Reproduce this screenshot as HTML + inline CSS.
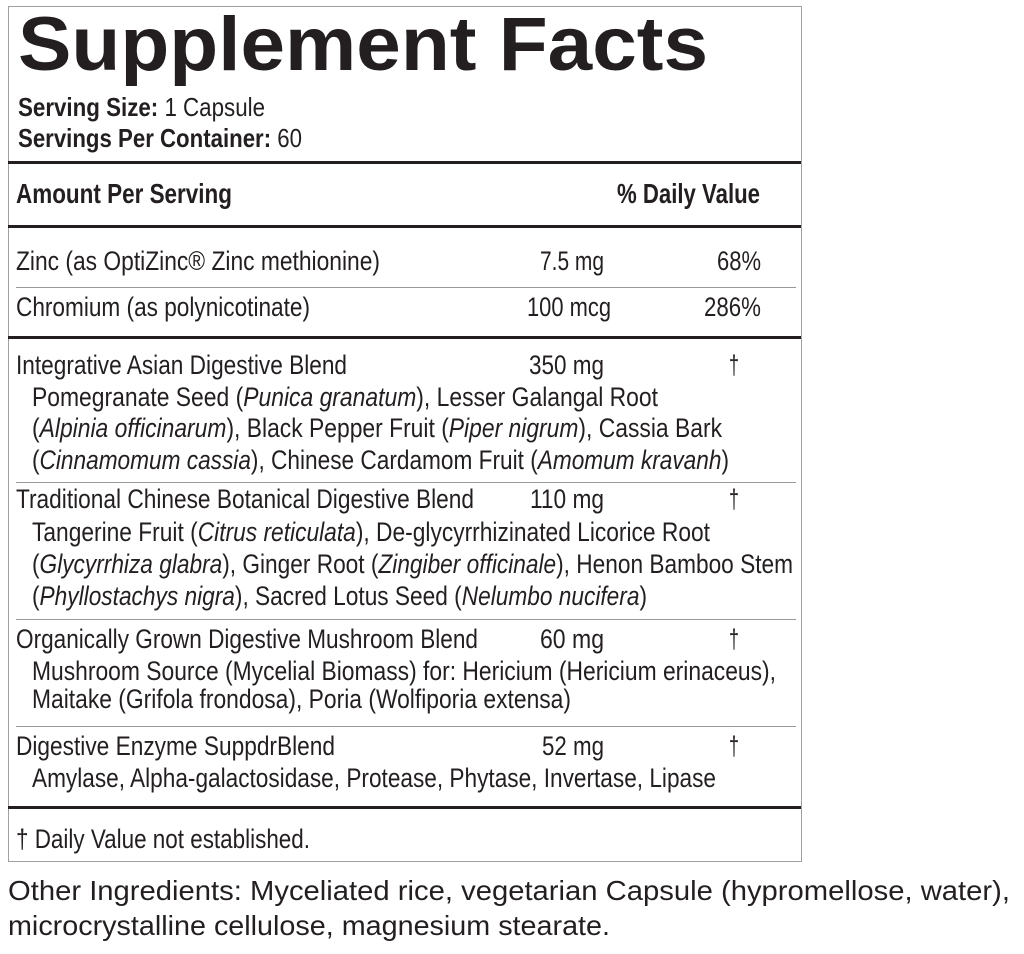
<!DOCTYPE html>
<html><head><meta charset="utf-8"><style>
html,body{margin:0;padding:0;background:#fff;width:1024px;height:954px;overflow:hidden}
body{position:relative;font-family:"Liberation Sans",sans-serif;color:#231f20}
.t{position:absolute;white-space:nowrap;line-height:normal;transform-origin:0 0}
.ln{position:absolute;background:#231f20}
b{font-weight:bold}
</style></head><body>
<div style="position:absolute;left:8px;top:6px;width:792px;height:854px;border:1px solid #a0a0a0"></div>
<div class="ln" style="left:8px;top:161px;width:793px;height:3px"></div>
<div class="ln" style="left:8px;top:225px;width:793px;height:3px"></div>
<div class="ln" style="left:16px;top:287px;width:780px;height:1px;background:#999"></div>
<div class="ln" style="left:8px;top:336px;width:793px;height:3px"></div>
<div class="ln" style="left:16px;top:482px;width:780px;height:1px;background:#999"></div>
<div class="ln" style="left:16px;top:619px;width:780px;height:1px;background:#999"></div>
<div class="ln" style="left:16px;top:726px;width:780px;height:1px;background:#999"></div>
<div class="ln" style="left:8px;top:806px;width:793px;height:3px"></div>

<div id="c"></div>
<script>
var B=27;
var R=[
[18,70,708,76,'<b>Supplement Facts</b>'],
[18,116,265,26,'<b>Serving Size:</b> 1 Capsule'],
[18,147,302,26,'<b>Servings Per Container:</b> 60'],
[16,203,232,28,'<b>Amount Per Serving</b>'],
[617,203,760,28,'<b>% Daily Value</b>'],
[16,270,380,B,'Zinc (as OptiZinc® Zinc methionine)'],
[540,270,604,B,'7.5 mg'],[717,270,761,B,'68%'],
[16,316,310,B,'Chromium (as polynicotinate)'],
[527,316,611,B,'100 mcg'],[704,316,761,B,'286%'],
[16,374,347,B,'Integrative Asian Digestive Blend'],[529,374,604,B,'350 mg'],[729,374,739,B,'†'],
[32,406,658,B,'Pomegranate Seed (<i>Punica granatum</i>), Lesser Galangal Root'],
[32,437,722,B,'(<i>Alpinia officinarum</i>), Black Pepper Fruit (<i>Piper nigrum</i>), Cassia Bark'],
[32,469,729,B,'(<i>Cinnamomum cassia</i>), Chinese Cardamom Fruit (<i>Amomum kravanh</i>)'],
[16,508,474,B,'Traditional Chinese Botanical Digestive Blend'],[530,508,604,B,'110 mg'],[729,508,739,B,'†'],
[32,541,710,B,'Tangerine Fruit (<i>Citrus reticulata</i>), De-glycyrrhizinated Licorice Root'],
[32,573,793,B,'(<i>Glycyrrhiza glabra</i>), Ginger Root (<i>Zingiber officinale</i>), Henon Bamboo Stem'],
[32,605,647,B,'(<i>Phyllostachys nigra</i>), Sacred Lotus Seed (<i>Nelumbo nucifera</i>)'],
[16,648,478,B,'Organically Grown Digestive Mushroom Blend'],[540,648,604,B,'60 mg'],[729,648,739,B,'†'],
[32,680,776,B,'Mushroom Source (Mycelial Biomass) for: Hericium (Hericium erinaceus),'],
[32,708,571,B,'Maitake (Grifola frondosa), Poria (Wolfiporia extensa)'],
[16,755,335,B,'Digestive Enzyme SuppdrBlend'],[542,755,604,B,'52 mg'],[729,755,739,B,'†'],
[32,787,716,B,'Amylase, Alpha-galactosidase, Protease, Phytase, Invertase, Lipase'],
[16,848,310,B,'† Daily Value not established.'],
[8,900,1010,28,'Other Ingredients: Myceliated rice, vegetarian Capsule (hypromellose, water),'],
[8,935,610,28,'microcrystalline cellulose, magnesium stearate.']
];
var c=document.getElementById('c');
R.forEach(function(r){
 var d=document.createElement('div');d.className='t';
 d.style.left=r[0]+'px';d.style.fontSize=r[3]+'px';
 d.style.top=(r[1]-0.905*r[3])+'px';d.innerHTML=r[4];
 c.appendChild(d);
 var w=d.getBoundingClientRect().width,tw=r[2]-r[0];
 if(w>0)d.style.transform='scaleX('+(tw/w)+')';
});
</script>
</body></html>
